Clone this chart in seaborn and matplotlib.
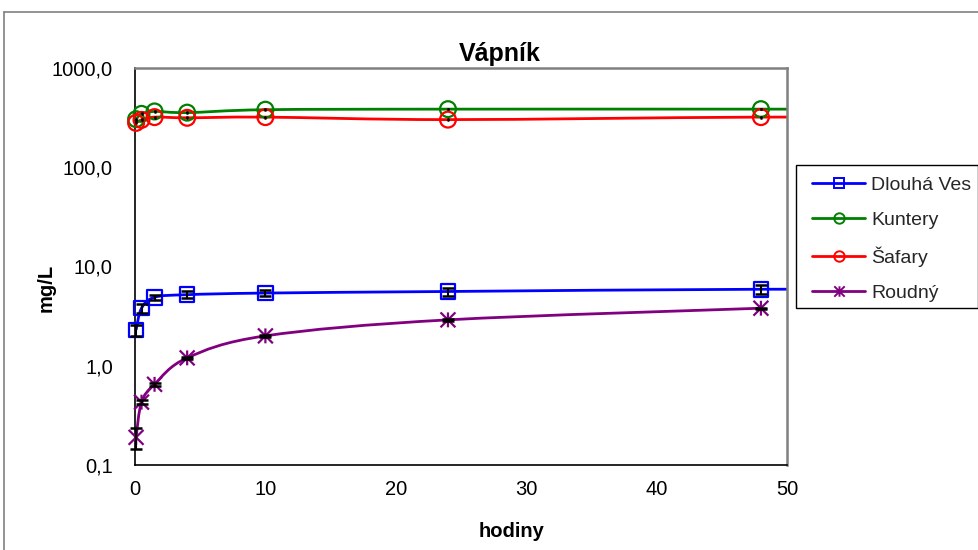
import numpy as np
import pandas as pd
import matplotlib
matplotlib.use("Agg")
import matplotlib.pyplot as plt
import seaborn as sns
from matplotlib.path import Path
from matplotlib.patches import PathPatch, Rectangle
from matplotlib.lines import Line2D
from matplotlib.ticker import FixedLocator, FixedFormatter, NullLocator

# --- data -------------------------------------------------------------
hodiny = [0.083, 0.5, 1.5, 4, 10, 24, 48, 72]
lokality = ["Dlouhá Ves", "Kuntery", "Šafary", "Roudný"]

dlouha_ves = [2.3, 3.8, 4.9, 5.2, 5.4, 5.6, 5.9, 5.9]
dlouha_ves_err = [0.3, 0.4, 0.3, 0.4, 0.4, 0.5, 0.6, 0.6]
kuntery = [305, 345, 365, 355, 380, 385, 385, 385]
kuntery_err = [3, 3, 3, 3, 3, 3, 3, 3]
safary = [280, 300, 320, 315, 320, 302, 320, 320]
safary_err = [3, 3, 3, 3, 3, 3, 3, 3]
roudny = [0.19, 0.43, 0.65, 1.2, 2.0, 2.9, 3.8, np.nan]
roudny_err = [0.045, 0.02, 0.02, 0.03, 0.05, 0.06, 0.06, np.nan]

barvy = ["#0000FF", "#008000", "#FF0000", "#800080"]

x_ticks = [0, 10, 20, 30, 40, 50]
y_ticks = [0.1, 1, 10, 100, 1000]
y_tick_labels = ["0,1", "1,0", "10,0", "100,0", "1000,0"]

titulek = "Vápník"
popis_x = "hodiny"
popis_y = "mg/L"

# --- style ------------------------------------------------------------
sns.set_theme(style="white")
plt.rcParams["font.family"] = ["Liberation Sans", "DejaVu Sans"]

W, H = 979, 550
fig = plt.figure(figsize=(W / 100, H / 100), dpi=100)
fig.patch.set_facecolor("white")

# plot area in pixels
px_l, px_r, px_t, px_b = 135, 787, 68, 465
ax = fig.add_axes([px_l / W, 1 - px_b / H, (px_r - px_l) / W, (px_b - px_t) / H])
ax.set_facecolor("white")
ax.set_yscale("log")
ax.set_xlim(0, 50)
ax.set_ylim(0.1, 1000)

# asterisk marker: vertical stroke plus two diagonals
ast = Path(
    [(0, -1), (0, 1), (-1, -1), (1, 1), (-1, 1), (1, -1)],
    [Path.MOVETO, Path.LINETO, Path.MOVETO, Path.LINETO, Path.MOVETO, Path.LINETO],
)
znacky = ["s", "o", "o", ast]
velikosti = [110, 130, 130, 115]
hlavicky = [4.2, 1.0, 1.0, 4.2]

serie = [dlouha_ves, kuntery, safary, roudny]
chyby = [dlouha_ves_err, kuntery_err, safary_err, roudny_err]

df = pd.concat(
    [pd.DataFrame({"hodiny": hodiny, "hodnota": s, "chyba": e, "lokalita": n})
     for n, s, e in zip(lokality, serie, chyby)],
    ignore_index=True,
).dropna()

# pixel scale of the axes, used for smoothing in screen-like space
sx = (px_r - px_l) / 50.0
sy = (px_b - px_t) / 4.0


def smooth_path(xs, ys):
    """Catmull-Rom style Bezier through the points (smoothed line)."""
    P = np.column_stack([np.asarray(xs) * sx, np.log10(ys) * sy])
    n = len(P)
    verts = [P[0]]
    codes = [Path.MOVETO]
    for i in range(n - 1):
        p0 = P[i - 1] if i > 0 else P[i]
        p1, p2 = P[i], P[i + 1]
        p3 = P[i + 2] if i + 2 < n else P[i + 1]
        c1 = p1 + (p2 - p0) / 6.0
        c2 = p2 - (p3 - p1) / 6.0
        verts += [c1, c2, p2]
        codes += [Path.CURVE4] * 3
    V = np.array(verts)
    V = np.column_stack([V[:, 0] / sx, 10 ** (V[:, 1] / sy)])
    return Path(V, codes)


for name, c, m, s, cap in zip(lokality, barvy, znacky, velikosti, hlavicky):
    d = df[df["lokalita"] == name]
    ax.add_patch(PathPatch(smooth_path(d["hodiny"], d["hodnota"]), facecolor="none",
                           edgecolor=c, lw=2.0, zorder=2))
    sns.scatterplot(data=d[d["hodiny"] <= 50], x="hodiny", y="hodnota", ax=ax,
                    marker=m, s=s, color=c, facecolors="none", edgecolors=c,
                    linewidth=1.6, zorder=3, legend=False, clip_on=False)
    eb = ax.errorbar(d["hodiny"], d["hodnota"], yerr=d["chyba"], fmt="none",
                     ecolor="black", elinewidth=1.5, capsize=cap, capthick=1.8, zorder=4)
    for art in eb.get_children():
        art.set_clip_on(False)

# --- axes styling -----------------------------------------------------
ax.set_xlabel("")
ax.set_ylabel("")
ax.xaxis.set_major_locator(FixedLocator(x_ticks))
ax.yaxis.set_major_locator(FixedLocator(y_ticks))
ax.yaxis.set_major_formatter(FixedFormatter(y_tick_labels))
ax.yaxis.set_minor_locator(NullLocator())
ax.tick_params(axis="both", which="major", direction="inout", length=8, width=1,
               color="black", labelsize=14.5, labelcolor="black")
ax.tick_params(axis="y", pad=12)
ax.tick_params(axis="x", pad=7)
for side in ["left", "bottom"]:
    ax.spines[side].set_color("black")
    ax.spines[side].set_linewidth(1.2)
for side in ["top", "right"]:
    ax.spines[side].set_color("#808080")
    ax.spines[side].set_linewidth(1.8)
ax.grid(False)

# titles
fig.text(500 / W, 1 - 61 / H, titulek, ha="center", va="baseline",
         fontsize=18, fontweight="bold", color="black")
fig.text(512 / W, 1 - 537 / H, popis_x, ha="center", va="baseline",
         fontsize=14.5, fontweight="bold", color="black")
fig.text(46 / W, 1 - 288 / H, popis_y, ha="center", va="center", rotation=90,
         fontsize=14.5, fontweight="bold", color="black")

# legend with its own frame
handles = [Line2D([], [], color=c, lw=2.0, marker=m, markersize=7.5,
                  markerfacecolor="none", markeredgecolor=c, markeredgewidth=1.4)
           for c, m in zip(barvy, znacky)]
fig.add_artist(Rectangle((796 / W, 1 - 308 / H), (978 - 796) / W, (308 - 165) / H,
                         transform=fig.transFigure, facecolor="white",
                         edgecolor="black", lw=1))
fig.legend(handles, lokality, loc="upper left", bbox_to_anchor=(812 / W, 1 - 176 / H),
           frameon=False, fontsize=14, handlelength=2.75, handletextpad=0.3,
           labelspacing=0.9, borderpad=0, borderaxespad=0)

# outer chart border
fig.add_artist(Line2D([4 / W, 1], [1 - 12 / H, 1 - 12 / H], transform=fig.transFigure,
                      color="#808080", lw=1.2))
fig.add_artist(Line2D([4 / W, 4 / W], [1 - 12 / H, 0], transform=fig.transFigure,
                      color="#808080", lw=1.2))

fig.savefig("out.png", dpi=100, facecolor="white")
